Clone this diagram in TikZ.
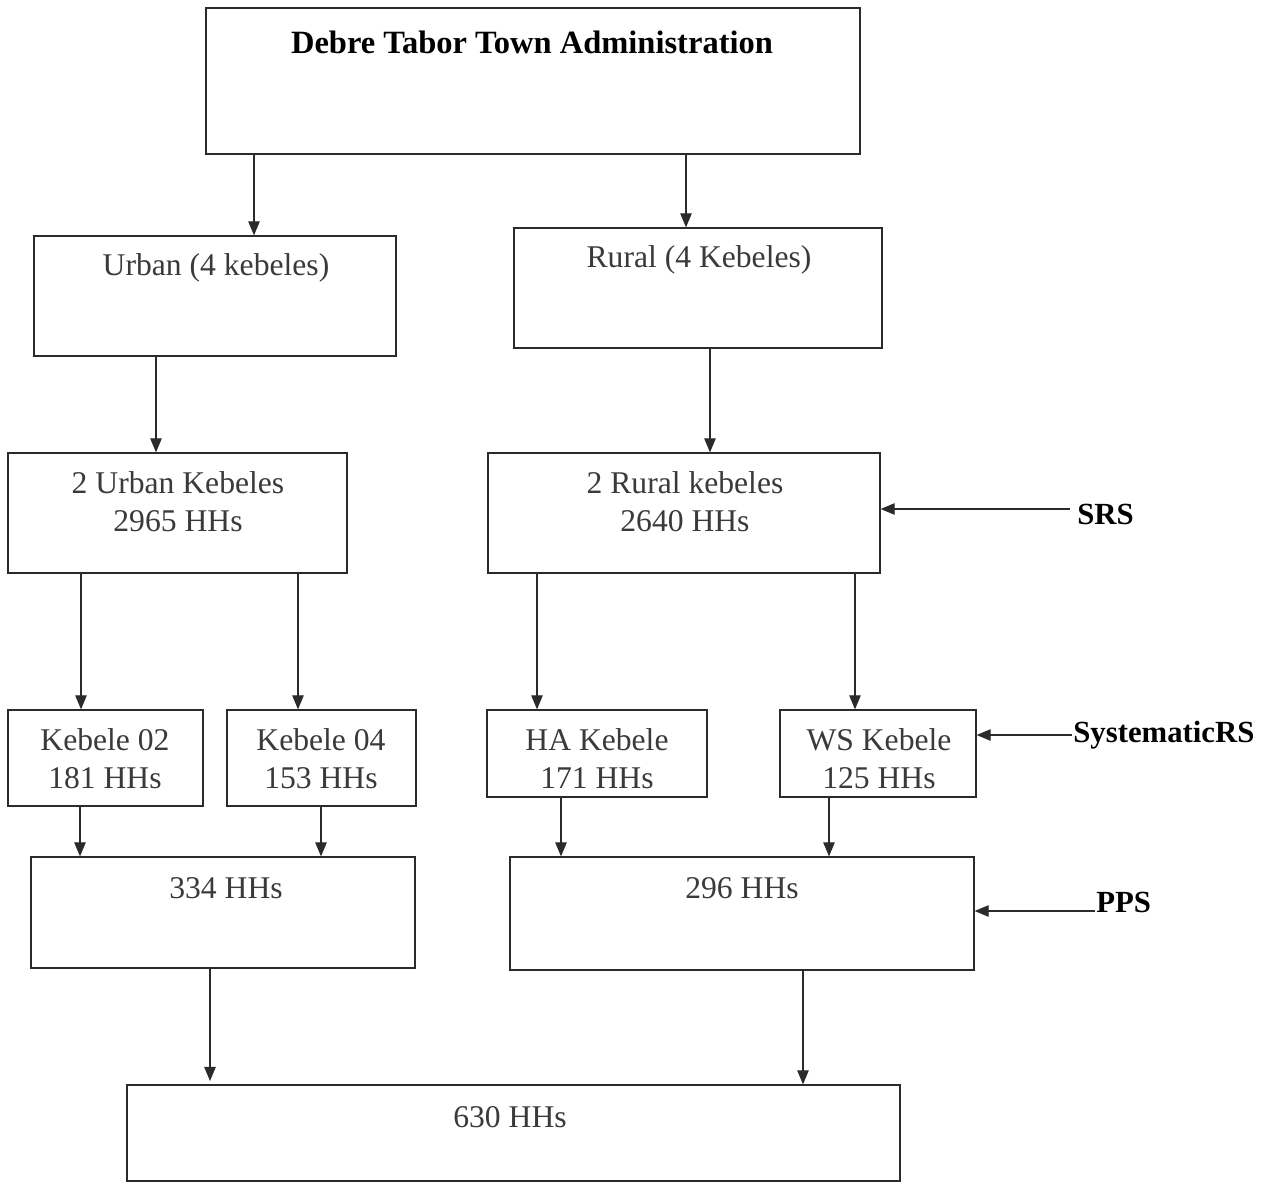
\documentclass[tikz,border=0pt]{standalone}
\usepackage{fontspec}
\setmainfont{Liberation Serif}
\usetikzlibrary{arrows.meta}
\definecolor{ink}{HTML}{2B2B2B}
\definecolor{txtc}{HTML}{3A3A3A}
\begin{document}
\begin{tikzpicture}[x=0.02cm,y=-0.02cm,
  box/.style 2 args={draw=ink, line width=0.7pt, minimum width=#1*0.02cm, minimum height=#2*0.02cm, inner sep=0pt},
  txt/.style={text=txtc, font=\fontsize{18}{21.5}\selectfont, align=center, inner sep=0pt},
  lab/.style={text=black, font=\fontsize{17.5}{21}\selectfont\bfseries, inner sep=0pt},
  arr/.style={draw=ink, line width=0.7pt, -{Triangle[length=8pt,width=6.5pt]}}]
\useasboundingbox[fill=white] (0,0) rectangle (1276,1183);
% boxes
\node[box={654}{146}] (top) at (533,81) {};
\node[box={362}{120}] (urban) at (215,296) {};
\node[box={368}{120}] (rural) at (698,288) {};
\node[box={339}{120}] (u2) at (177.5,513) {};
\node[box={392}{120}] (r2) at (684,513) {};
\node[box={195}{96}] (k02) at (105.5,758) {};
\node[box={189}{96}] (k04) at (321.5,758) {};
\node[box={220}{87}] (ha) at (597,753.5) {};
\node[box={196}{87}] (ws) at (878,753.5) {};
\node[box={384}{111}] (s334) at (223,912.5) {};
\node[box={464}{113}] (s296) at (742,913.5) {};
\node[box={773}{96}] (s630) at (513.5,1133) {};
% texts
\node[lab, font=\fontsize{18.5}{22}\selectfont\bfseries] (topT) at (532,42) {Debre Tabor Town Administration};
\node[txt] (urbanT) at (216,268) {Urban (4 kebeles)};
\node[txt] (ruralT) at (699,260) {Rural (4 Kebeles)};
\node[txt] (u2T) at (178,502) {2 Urban Kebeles\\2965 HHs};
\node[txt] (r2T) at (685,502) {2 Rural kebeles\\2640 HHs};
\node[txt] (k02T) at (105,759) {Kebele 02\\181 HHs};
\node[txt] (k04T) at (321,759) {Kebele 04\\153 HHs};
\node[txt] (haT) at (597,759) {HA Kebele\\171 HHs};
\node[txt] (wsT) at (879,759) {WS Kebele\\125 HHs};
\node[txt] (s334T) at (226,888) {334 HHs};
\node[txt] (s296T) at (742,888) {296 HHs};
\node[txt] (s630T) at (510,1117) {630 HHs};
% side labels
\node[lab, anchor=west] (srs) at (1077,514) {SRS};
\node[lab, anchor=west] (sys) at (1073,735) {SystematicRS};
\node[lab, anchor=west] (pps) at (1096,902) {PPS};
\coordinate (srsA) at (1070,509);
\coordinate (sysA) at (1072,735);
\coordinate (ppsA) at (1095,911);
% connectors
\draw[arr] (254,0 |- top.south) -- (254,0 |- urban.north);
\draw[arr] (686,0 |- top.south) -- (686,0 |- rural.north);
\draw[arr] (156,0 |- urban.south) -- (156,0 |- u2.north);
\draw[arr] (710,0 |- rural.south) -- (710,0 |- r2.north);
\draw[arr] (81,0 |- u2.south) -- (81,0 |- k02.north);
\draw[arr] (298,0 |- u2.south) -- (298,0 |- k04.north);
\draw[arr] (537,0 |- r2.south) -- (537,0 |- ha.north);
\draw[arr] (855,0 |- r2.south) -- (855,0 |- ws.north);
\draw[arr] (80,0 |- k02.south) -- (80,0 |- s334.north);
\draw[arr] (321,0 |- k04.south) -- (321,0 |- s334.north);
\draw[arr] (561,0 |- ha.south) -- (561,0 |- s296.north);
\draw[arr] (829,0 |- ws.south) -- (829,0 |- s296.north);
\draw[arr] (210,0 |- s334.south) -- (210,1081);
\draw[arr] (803,0 |- s296.south) -- (803,0 |- s630.north);
\draw[arr] (srsA) -- (srsA -| r2.east);
\draw[arr] (sysA) -- (sysA -| ws.east);
\draw[arr] (ppsA) -- (ppsA -| s296.east);
\end{tikzpicture}
\end{document}
